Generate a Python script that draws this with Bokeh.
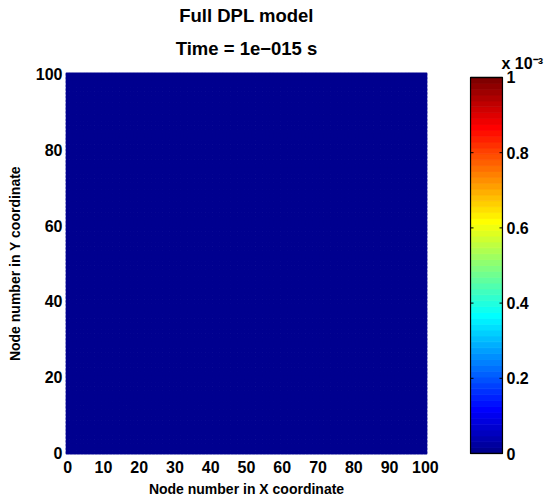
import numpy as np
from bokeh.plotting import figure
from bokeh.layouts import row
from bokeh.models import (ColumnDataSource, LinearColorMapper, FixedTicker,
                          CustomJSTickFormatter, Range1d, Title)
from bokeh.transform import transform
from bokeh.embed import file_html
from bokeh.resources import INLINE

# Grid nodes and the temperature rise at t = 1e-15 s (no heat has spread yet)
x_nodes = list(range(0, 101))
y_nodes = list(range(0, 101))
field = np.zeros((len(y_nodes), len(x_nodes)))

x_ticks = [0, 10, 20, 30, 40, 50, 60, 70, 80, 90, 100]
y_ticks = [0, 20, 40, 60, 80, 100]
cbar_ticks = [0.0, 0.0002, 0.0004, 0.0006, 0.0008, 0.001]
c_low, c_high = 0.0, 0.001
n_levels = 64


def jet(m):
    """MATLAB-style jet colormap with m entries."""
    n = int(np.ceil(m / 4))
    u = np.concatenate([np.arange(1, n + 1) / n, np.ones(n - 1), np.arange(n, 0, -1) / n])
    g = int(np.ceil(n / 2)) - (1 if m % 4 == 1 else 0) + np.arange(1, len(u) + 1)
    r = g + n
    b = g - n
    J = np.zeros((m, 3))
    ok = r <= m
    J[r[ok] - 1, 0] = u[ok]
    ok = g <= m
    J[g[ok] - 1, 1] = u[ok]
    ok = b >= 1
    J[b[ok] - 1, 2] = u[ok]
    return ["#%02x%02x%02x" % tuple(int(round(v * 255)) for v in row_) for row_ in J]


palette = jet(n_levels)
mapper = LinearColorMapper(palette=palette, low=c_low, high=c_high)

FONT = "Liberation Sans"
FRAME_TOP = 72
FRAME_H = 382

# ---- field plot -------------------------------------------------------------
X, Y = np.meshgrid(x_nodes, y_nodes)
src = ColumnDataSource(dict(x=X.ravel(), y=Y.ravel(), v=field.ravel()))

p = figure(width=440, height=500, output_backend="svg", toolbar_location=None,
           x_range=Range1d(-0.6, 100.6), y_range=Range1d(-0.5, 100.5),
           frame_width=362, frame_height=FRAME_H,
           min_border_left=65, min_border_top=FRAME_TOP, min_border_bottom=46,
           min_border_right=13)

p.scatter("x", "y", source=src, size=5.2, marker="circle",
          fill_color=transform("v", mapper), line_color=None)

# two-line heading: the figure title plus a second line stacked with it
p.title.text = "Full DPL model"
p.title.align = "center"
p.title.text_font = FONT
p.title.text_font_size = "18.5px"
p.title.text_font_style = "bold"
p.title.text_color = "black"
p.title.standoff = -6
p.add_layout(Title(text="Time = 1e\u2212015 s", align="center", text_font=FONT,
                   text_font_size="18.5px", text_font_style="bold",
                   text_color="black", standoff=27), "above")

p.xgrid.visible = False
p.ygrid.visible = False
p.outline_line_color = None

for ax, ticks, label in ((p.xaxis[0], x_ticks, "Node number in X coordinate"),
                         (p.yaxis[0], y_ticks, "Node number in Y coordinate")):
    ax.ticker = FixedTicker(ticks=ticks)
    ax.axis_line_color = None
    ax.major_tick_line_color = None
    ax.major_tick_in = 0
    ax.major_tick_out = 0
    ax.minor_tick_line_color = None
    ax.minor_tick_in = 0
    ax.minor_tick_out = 0
    ax.major_label_text_font = FONT
    ax.major_label_text_font_size = "16px"
    ax.major_label_text_font_style = "bold"
    ax.major_label_text_color = "black"
    ax.axis_label = label
    ax.axis_label_text_font = FONT
    ax.axis_label_text_font_size = "14px"
    ax.axis_label_text_font_style = "bold"
    ax.axis_label_text_color = "black"

p.xaxis[0].major_label_standoff = 6
p.xaxis[0].axis_label_standoff = 5
p.yaxis[0].major_label_standoff = 3
p.yaxis[0].axis_label_standoff = 10

# ---- colour scale -----------------------------------------------------------
step = (c_high - c_low) / n_levels
bottoms = [c_low + i * step for i in range(n_levels)]
tops = [b + step for b in bottoms]
cb_src = ColumnDataSource(dict(bottom=bottoms, top=tops, color=palette))

# the bar is 377 px tall inside a 382 px frame (1 px below, 4 px above)
bar_px = 377.0
unit = (c_high - c_low) / bar_px
cb = figure(width=114, height=500, output_backend="svg", toolbar_location=None,
            x_range=Range1d(-1 / 32, 33 / 32),
            y_range=Range1d(c_low - 1 * unit, c_high + 5 * unit),
            frame_width=34, frame_height=FRAME_H,
            min_border_left=29, min_border_top=FRAME_TOP, min_border_bottom=46,
            min_border_right=51, y_axis_location="right")
cb.quad(left=0, right=1, bottom="bottom", top="top", fill_color="color",
        line_color="color", line_width=0.8, source=cb_src)
cb.quad(left=0, right=1, bottom=c_low, top=c_high, fill_color=None,
        line_color="black", line_width=1.3)

# tick marks drawn inward on both sides of the bar
tick_len = 3.0 / 32
cb.segment(x0=[0] * len(cbar_ticks), x1=[tick_len] * len(cbar_ticks),
           y0=cbar_ticks, y1=cbar_ticks, line_color="black", line_width=1)
cb.segment(x0=[1 - tick_len] * len(cbar_ticks), x1=[1] * len(cbar_ticks),
           y0=cbar_ticks, y1=cbar_ticks, line_color="black", line_width=1)

cb.xaxis.visible = False
cb.xgrid.visible = False
cb.ygrid.visible = False
cb.outline_line_color = None

# exponent of the colour scale
cb.title.text = "x 10\u207b\u00b3"
cb.title.align = "left"
cb.title.offset = 32
cb.title.text_font = FONT
cb.title.text_font_size = "16px"
cb.title.text_font_style = "bold"
cb.title.text_color = "black"
cb.title.standoff = 1

fmt = CustomJSTickFormatter(code="const v = Math.round(tick * 1e4) / 10; return v.toString();")
ra = cb.yaxis[0]
ra.ticker = FixedTicker(ticks=cbar_ticks)
ra.formatter = fmt
ra.axis_line_color = None
ra.major_tick_line_color = None
ra.major_tick_in = 0
ra.major_tick_out = 0
ra.minor_tick_line_color = None
ra.minor_tick_in = 0
ra.minor_tick_out = 0
ra.major_label_text_font = FONT
ra.major_label_text_font_size = "16px"
ra.major_label_text_font_style = "bold"
ra.major_label_text_color = "black"
ra.major_label_standoff = 3

layout = row(p, cb)
open("out.html", "w").write(file_html(layout, INLINE))
